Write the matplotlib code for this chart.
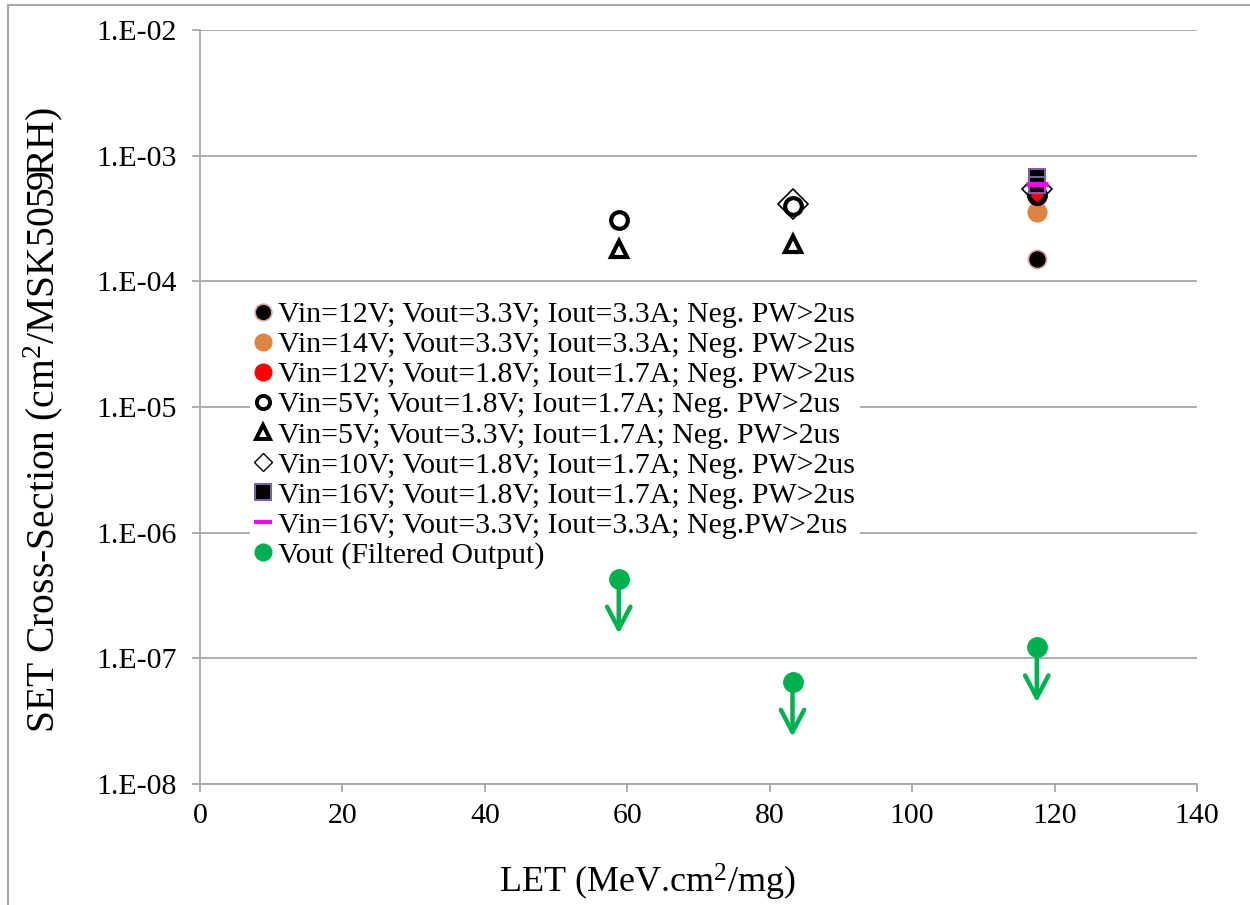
import matplotlib
matplotlib.use("Agg")
import matplotlib.pyplot as plt
from matplotlib.ticker import FixedLocator, FixedFormatter
from matplotlib.lines import Line2D

plt.rcParams['font.family'] = ['Liberation Serif', 'DejaVu Serif']
plt.rcParams['mathtext.fontset'] = 'custom'
plt.rcParams['mathtext.rm'] = 'Liberation Serif'
plt.rcParams['mathtext.it'] = 'Liberation Serif:italic'
plt.rcParams['mathtext.bf'] = 'Liberation Serif:bold'

# ---- data ----
s1_x = [117.5]; s1_y = [1.5e-4]
s2_x = [117.5]; s2_y = [3.55e-4]
s3_x = [117.5]; s3_y = [4.8e-4]
s4_x = [58.8, 83.2, 117.5]; s4_y = [3.05e-4, 3.95e-4, 4.9e-4]
s5_x = [58.8, 83.2]; s5_y = [1.8e-4, 2.0e-4]
s6_x = [83.2, 117.5]; s6_y = [4.1e-4, 5.4e-4]
s7_x = [117.5, 117.5]; s7_y = [6.8e-4, 5.8e-4]
s8_x = [117.5]; s8_y = [5.9e-4]
s9_x = [58.8, 83.2, 117.5]; s9_y = [4.3e-7, 6.5e-8, 1.22e-7]

labels = [
    "Vin=12V; Vout=3.3V; Iout=3.3A; Neg. PW>2us",
    "Vin=14V; Vout=3.3V; Iout=3.3A; Neg. PW>2us",
    "Vin=12V; Vout=1.8V; Iout=1.7A; Neg. PW>2us",
    "Vin=5V; Vout=1.8V; Iout=1.7A; Neg. PW>2us",
    "Vin=5V; Vout=3.3V; Iout=1.7A; Neg. PW>2us",
    "Vin=10V; Vout=1.8V; Iout=1.7A; Neg. PW>2us",
    "Vin=16V; Vout=1.8V; Iout=1.7A; Neg. PW>2us",
    "Vin=16V; Vout=3.3V; Iout=3.3A; Neg.PW>2us",
    "Vout (Filtered Output)",
]
x_ticks = [0, 20, 40, 60, 80, 100, 120, 140]
y_ticks = [1e-8, 1e-7, 1e-6, 1e-5, 1e-4, 1e-3, 1e-2]
y_tick_labels = ["1.E-08", "1.E-07", "1.E-06", "1.E-05", "1.E-04", "1.E-03", "1.E-02"]

GREEN = "#00B050"
GRID = "#A6A6A6"

fig = plt.figure(figsize=(12.5, 9.05), dpi=100)
# outer chart-area border (top and left edges visible)
fig.add_artist(Line2D([8/1250, 8/1250, 1.0], [0.0, 1 - 5.5/905, 1 - 5.5/905],
                      transform=fig.transFigure, color=GRID, linewidth=1.5))
ax = fig.add_axes([200/1250, 1 - 784/905, (1197-200)/1250, (784-30)/905])

ax.set_yscale('log')
ax.set_xlim(0, 140)
ax.set_ylim(1e-8, 1e-2)

ax.yaxis.set_major_locator(FixedLocator(y_ticks))
ax.yaxis.set_major_formatter(FixedFormatter(y_tick_labels))
ax.yaxis.set_minor_locator(FixedLocator([]))
ax.set_xticks(x_ticks)
ax.grid(axis='y', color=GRID, linewidth=1.3)
ax.set_axisbelow(True)
for s in ['top', 'right']:
    ax.spines[s].set_visible(False)
for s in ['left', 'bottom']:
    ax.spines[s].set_color(GRID)
    ax.spines[s].set_linewidth(1.3)
ax.tick_params(axis='both', which='major', direction='out', length=6, width=1.3,
               color=GRID, labelsize=21.5, labelcolor='black')
ax.tick_params(axis='y', pad=11)
ax.tick_params(axis='x', pad=8)

ax.plot(s1_x, s1_y, 'o', ms=13, mfc='black', mec='#D9A0A0', mew=1.2)
ax.plot(s2_x, s2_y, 'o', ms=13.5, mfc='#DD8443', mec='#DD8443')
ax.plot(s3_x, s3_y, 'o', ms=13, mfc='#FF0000', mec='#FF0000')
ax.plot(s4_x, s4_y, 'o', ms=12, mfc='none', mec='black', mew=3)
ax.plot(s5_x, s5_y, '^', ms=12, mfc='white', mec='black', mew=3)
ax.plot(s6_x, s6_y, 'D', ms=15, mfc='none', mec='black', mew=1.2)
ax.plot(s7_x, s7_y, 's', ms=12, mfc='black', mec='#7F60A8', mew=1.5)
ax.plot(s8_x, s8_y, '_', ms=16, mfc='#FF00FF', mec='#FF00FF', mew=3.5)
ax.plot(s9_x, s9_y, 'o', ms=14, mfc=GREEN, mec=GREEN, zorder=7)

for xv, yv in zip(s9_x, s9_y):
    ax.annotate("", xy=(xv, yv * 0.365), xytext=(xv, yv),
                arrowprops=dict(arrowstyle="->,head_length=0.8,head_width=0.42",
                                mutation_scale=20, color=GREEN, lw=3.2,
                                shrinkA=0, shrinkB=0,
                                capstyle='round', joinstyle='round'), zorder=6)

# legend proxies (legend markers are drawn a bit smaller than in the plot)
def proxy(marker, ms, mfc, mec, mew=1.0):
    return Line2D([], [], ls='none', marker=marker, ms=ms, mfc=mfc, mec=mec, mew=mew)

handles = [
    proxy('o', 12, 'black', '#D9A0A0', 1.2),
    proxy('o', 12, '#DD8443', '#DD8443'),
    proxy('o', 12, '#FF0000', '#FF0000'),
    proxy('o', 9.5, 'white', 'black', 2.8),
    proxy('^', 10, 'white', 'black', 2.8),
    proxy('D', 9.5, 'white', 'black', 1.0),
    proxy('s', 11, 'black', '#7F60A8', 1.5),
    proxy('_', 12.5, '#FF00FF', '#FF00FF', 3.0),
    proxy('o', 12, GREEN, GREEN),
]

leg = ax.legend(handles=handles, labels=labels, loc='upper left',
                bbox_to_anchor=((250-200)/997, 1 - (297-30)/754),
                frameon=True, fancybox=False, framealpha=1, edgecolor='white',
                fontsize=21.5, handlelength=0.6, handletextpad=0.2, labelspacing=0.105,
                borderpad=0.15, borderaxespad=0, markerscale=1.0)
leg.get_frame().set_linewidth(0)
leg.set_zorder(5)

ax.set_xlabel(r"LET (MeV.cm$^{2}$/mg)", fontsize=26)
ax.xaxis.label.set_va('center')
ax.xaxis.set_label_coords((648-200)/997, -(882-784)/754)
ax.set_ylabel(r"SET Cross-Section (cm$^{2}$/MSK5059RH)", fontsize=28.5)
ax.yaxis.label.set_va('center')
ax.yaxis.set_label_coords(-(200-43)/997, 1 - (420-30)/754)

fig.savefig("out.png", dpi=100, facecolor='white')
